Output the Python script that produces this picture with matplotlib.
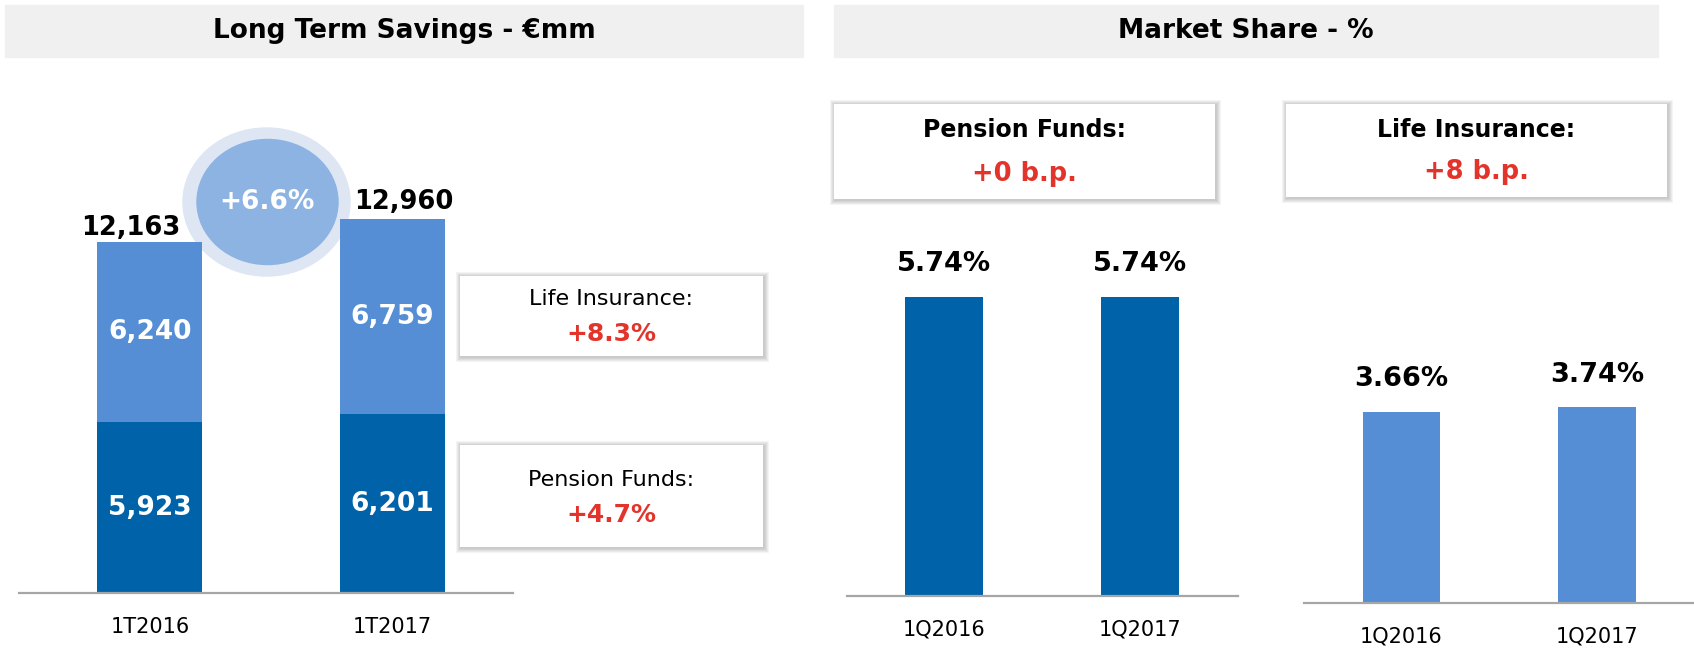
import matplotlib
matplotlib.use('Agg')
import matplotlib.pyplot as plt
from matplotlib.patches import Rectangle, Ellipse

W, H = 1694, 650

# long term savings (EUR mm)
lts_periods = ['1T2016', '1T2017']
pension_funds = [5923, 6201]
life_insurance = [6240, 6759]
lts_growth = '+6.6%'
life_growth = '+8.3%'
pension_growth = '+4.7%'

# market share (%)
ms_periods = ['1Q2016', '1Q2017']
ms_pension = [5.74, 5.74]
ms_life = [3.66, 3.74]
ms_pension_change = '+0 b.p.'
ms_life_change = '+8 b.p.'

DARK = '#0062a8'
LIGHT = '#558ed5'
RED = '#e3342b'
BAND = '#f0f0f0'
AXIS = '#a6a6a6'

plt.rcParams['font.family'] = ['DejaVu Sans']

fig = plt.figure(figsize=(W / 100, H / 100), dpi=100)


def fx(x):
    return x / W


def fy(y):
    return 1 - y / H


def add_ax(x0, x1, y_top, y_base):
    ax = fig.add_axes([fx(x0), fy(y_base), (x1 - x0) / W, (y_base - y_top) / H])
    for s in ['top', 'right', 'left']:
        ax.spines[s].set_visible(False)
    ax.spines['bottom'].set_color(AXIS)
    ax.spines['bottom'].set_linewidth(1.6)
    ax.set_yticks([])
    ax.tick_params(axis='x', length=0, pad=17, labelsize=15)
    ax.patch.set_alpha(0)
    return ax


def band(x0, x1, text):
    fig.add_artist(Rectangle((fx(x0), fy(57)), (x1 - x0) / W, 52 / H,
                             transform=fig.transFigure, color=BAND, zorder=0))
    fig.text(fx((x0 + x1) / 2), fy(31), text, ha='center', va='center',
             fontsize=19, fontweight='bold')


def box(x0, y0, x1, y1):
    # soft shadow then white card
    for i in range(5, 0, -1):
        fig.add_artist(Rectangle((fx(x0 - i + 1), fy(y1 + i + 1)), (x1 - x0 + 2 * i) / W,
                                 (y1 - y0 + 2 * i) / H, transform=fig.transFigure,
                                 color='black', alpha=0.045, lw=0, zorder=5))
    fig.add_artist(Rectangle((fx(x0), fy(y1)), (x1 - x0) / W, (y1 - y0) / H,
                             transform=fig.transFigure, color='white', lw=0, zorder=6))


band(5, 803, 'Long Term Savings - €mm')
band(834, 1658, 'Market Share - %')

# ---- left: stacked bars
ax = add_ax(19, 513, 100, 593)
x = [0, 1]
totals = [p + l for p, l in zip(pension_funds, life_insurance)]
ax.bar(x, pension_funds, 0.433, color=DARK, zorder=2)
ax.bar(x, life_insurance, 0.433, bottom=pension_funds, color=LIGHT, zorder=2)
ax.set_xlim(-0.540, 1.497)
ax.set_ylim(0, 17084)
ax.set_xticks(x)
ax.set_xticklabels(lts_periods)
for i in x:
    ax.text(i, pension_funds[i] / 2, f'{pension_funds[i]:,}', ha='center', va='center',
            color='white', fontsize=19, fontweight='bold', zorder=3)
    ax.text(i, pension_funds[i] + life_insurance[i] / 2, f'{life_insurance[i]:,}',
            ha='center', va='center', color='white', fontsize=19, fontweight='bold', zorder=3)
for i, dx, dy in zip(x, [-14, 8], [1, 3]):
    ax.annotate(f'{totals[i]:,}', (i, totals[i]), xytext=(dx, dy), textcoords='offset points',
                ha='center', va='bottom', fontsize=18.5, fontweight='bold')

ax.add_patch(Ellipse((fx(266.5), fy(202)), 167 / W, 148 / H, transform=fig.transFigure,
                     color='#dde6f2', clip_on=False, zorder=1))
ax.add_patch(Ellipse((fx(267.5), fy(202)), 141 / W, 125 / H, transform=fig.transFigure,
                     color='#8db3e2', clip_on=False, zorder=1))
fig.text(fx(267), fy(202), lts_growth, ha='center', va='center', color='white',
         fontsize=19, fontweight='bold')

box(460, 276, 763, 356)
fig.text(fx(611), fy(299), 'Life Insurance:', ha='center', va='center', fontsize=16, zorder=7)
fig.text(fx(611), fy(334), life_growth, ha='center', va='center', color=RED,
         fontsize=18, fontweight='bold', zorder=7)
box(460, 445, 763, 547)
fig.text(fx(611), fy(480), 'Pension Funds:', ha='center', va='center', fontsize=16, zorder=7)
fig.text(fx(611), fy(515), pension_growth, ha='center', va='center', color=RED,
         fontsize=18, fontweight='bold', zorder=7)

# ---- right: market share
ax1 = add_ax(847, 1238, 200, 596)
ax1.bar(x, ms_pension, 0.398, color=DARK)
ax1.set_xlim(-0.495, 1.5)
ax1.set_ylim(0, 7.60)
ax1.set_xticks(x)
ax1.set_xticklabels(ms_periods)

ax2 = add_ax(1304, 1694, 220, 603)
ax2.bar(x, ms_life, 0.398, color=LIGHT)
ax2.set_xlim(-0.499, 1.496)
ax2.set_ylim(0, 7.32)
ax2.set_xticks(x)
ax2.set_xticklabels(ms_periods)

for a, vals in [(ax1, ms_pension), (ax2, ms_life)]:
    for i, v in zip(x, vals):
        a.annotate(f'{v:.2f}%', (i, v), xytext=(0, 14), textcoords='offset points',
                   ha='center', va='bottom', fontsize=19.5, fontweight='bold')

box(834, 104, 1215, 199)
fig.text(fx(1024.5), fy(130), 'Pension Funds:', ha='center', va='center', fontsize=17,
         fontweight='bold', zorder=7)
fig.text(fx(1024.5), fy(174), ms_pension_change, ha='center', va='center', color=RED,
         fontsize=18.5, fontweight='bold', zorder=7)
box(1286, 104, 1667, 197)
fig.text(fx(1476.5), fy(130), 'Life Insurance:', ha='center', va='center', fontsize=17,
         fontweight='bold', zorder=7)
fig.text(fx(1476.5), fy(172), ms_life_change, ha='center', va='center', color=RED,
         fontsize=18.5, fontweight='bold', zorder=7)

fig.savefig('out.png', dpi=100)
